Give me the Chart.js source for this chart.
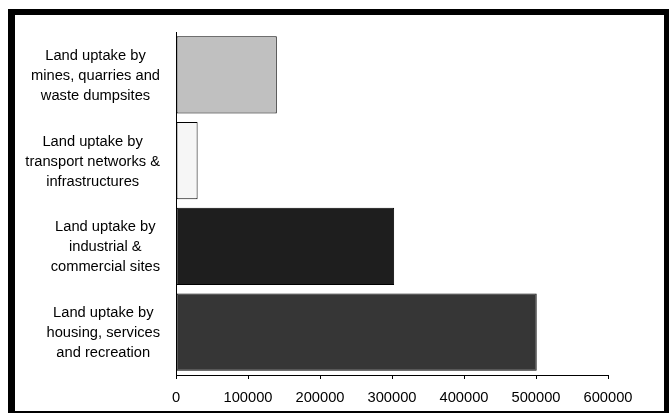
<!DOCTYPE html>
<html>
<head>
<meta charset="utf-8">
<script src="https://cdn.jsdelivr.net/npm/chart.js@4/dist/chart.umd.min.js"></script>
<style>
  html, body { margin: 0; padding: 0; background: #fff; }
  body { width: 669px; height: 413px; position: relative; overflow: hidden; }
  #chart { position: absolute; left: 0; top: 0; }
  #frame {
    position: absolute; left: 8px; top: 9px;
    width: 663px; height: 409px; box-sizing: border-box;
    border-style: solid; border-color: #000;
    border-width: 6px 7px 7px 7px;
    pointer-events: none;
  }
</style>
</head>
<body>
<canvas id="chart" width="669" height="413"></canvas>
<div id="frame"></div>
<script>
// Land uptake categories, top to bottom
const categories = [
  ['Land uptake by', 'mines, quarries and', 'waste dumpsites'],
  ['Land uptake by', 'transport networks &', 'infrastructures'],
  ['Land uptake by', 'industrial &', 'commercial sites'],
  ['Land uptake by', 'housing, services', 'and recreation']
];
// Area taken up by each land use
const uptakeValues = [140000, 30000, 303000, 501000];
const barColors = ['#c0c0c0', '#f6f6f6', '#1e1e1e', '#363636'];
const xTicks = { min: 0, max: 600000, step: 100000 };

const FONT = '"Liberation Sans", Arial, sans-serif';
const FONT_SIZE = 14.7;

// Multi-line category labels: each block right-aligned to the axis,
// its lines centred within the block.
const categoryLabels = {
  id: 'categoryLabels',
  afterDraw(chart) {
    const { ctx, chartArea } = chart;
    const yScale = chart.scales.y;
    const lineGap = 20;
    ctx.save();
    ctx.font = FONT_SIZE + 'px ' + FONT;
    ctx.fillStyle = '#000';
    ctx.textAlign = 'center';
    ctx.textBaseline = 'middle';
    chart.data.labels.forEach((lines, i) => {
      const yc = yScale.getPixelForValue(i);
      const widest = Math.max(...lines.map(l => ctx.measureText(l).width));
      const right = chartArea.left - 16;
      const xc = right - widest / 2;
      const y0 = yc - (lines.length - 1) * lineGap / 2;
      lines.forEach((line, k) => ctx.fillText(line, xc, y0 + k * lineGap + 1));
    });
    ctx.restore();
  }
};

new Chart(document.getElementById('chart'), {
  type: 'bar',
  data: {
    labels: categories,
    datasets: [{
      data: uptakeValues,
      backgroundColor: barColors,
      borderColor: '#000',
      borderWidth: 1,
      borderSkipped: false,
      barPercentage: 0.9,
      categoryPercentage: 1.0
    }]
  },
  options: {
    indexAxis: 'y',
    responsive: false,
    animation: false,
    devicePixelRatio: 1,
    layout: { padding: { left: 0, top: 32, right: 61, bottom: 0 } },
    plugins: {
      legend: { display: false },
      tooltip: { enabled: false }
    },
    scales: {
      x: {
        min: xTicks.min,
        max: xTicks.max,
        afterFit(scale) { scale.height = 38; },
        ticks: {
          stepSize: xTicks.step,
          color: '#000',
          padding: 10,
          font: { family: FONT, size: FONT_SIZE },
          maxRotation: 0,
          callback: v => String(v)
        },
        grid: {
          drawOnChartArea: false,
          drawTicks: true,
          tickLength: 4,
          tickColor: '#000',
          tickWidth: 1
        },
        border: { display: true, color: '#000', width: 1 }
      },
      y: {
        afterFit(scale) { scale.width = 176; },
        ticks: { display: false },
        grid: { drawOnChartArea: false, drawTicks: false },
        border: { display: true, color: '#000', width: 1 }
      }
    }
  },
  plugins: [categoryLabels]
});
</script>
</body>
</html>
